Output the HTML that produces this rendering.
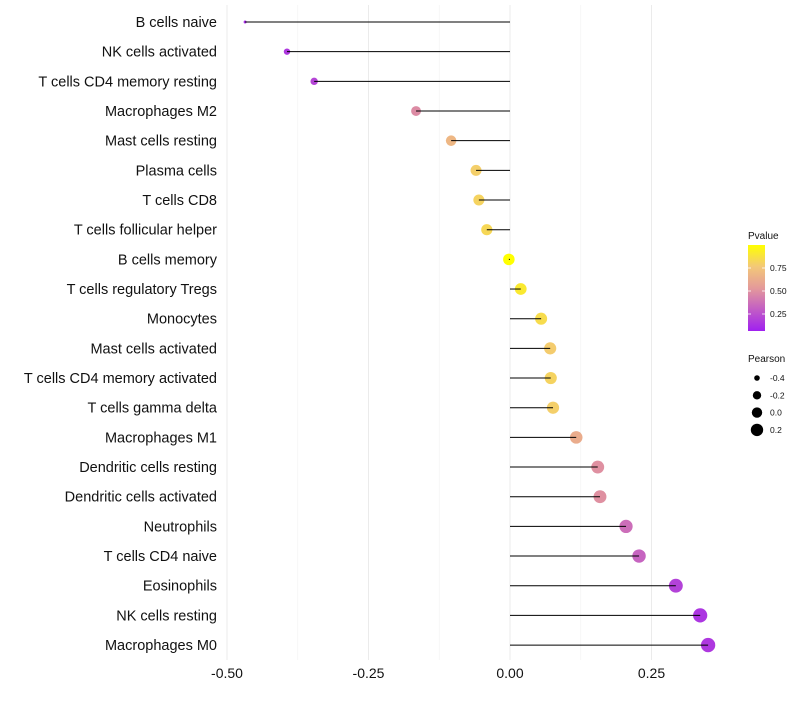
<!DOCTYPE html>
<html><head><meta charset="utf-8"><style>
body{margin:0;background:#fff;font-family:"Liberation Sans",sans-serif;}
</style></head><body>
<svg id="c" width="800" height="700" xmlns="http://www.w3.org/2000/svg">
<defs><linearGradient id="pg" x1="0" y1="1" x2="0" y2="0">
<stop offset="0" stop-color="#a020f0"/><stop offset="0.5" stop-color="#e49a9a"/><stop offset="0.75" stop-color="#f3c878"/><stop offset="1" stop-color="#ffff00"/></linearGradient></defs>
</svg>
<script>
const categories=["B cells naive","NK cells activated","T cells CD4 memory resting","Macrophages M2","Mast cells resting","Plasma cells","T cells CD8","T cells follicular helper","B cells memory","T cells regulatory  Tregs ","Monocytes","Mast cells activated","T cells CD4 memory activated","T cells gamma delta","Macrophages M1","Dendritic cells resting","Dendritic cells activated","Neutrophils","T cells CD4 naive","Eosinophils","NK cells resting","Macrophages M0"];
const pearson=[-0.468,-0.394,-0.346,-0.166,-0.104,-0.060,-0.055,-0.041,-0.002,0.019,0.055,0.071,0.072,0.076,0.117,0.155,0.159,0.205,0.228,0.293,0.336,0.350];
const pvalue=[0.05,0.1,0.15,0.44,0.66,0.78,0.8,0.82,1.0,0.9,0.84,0.77,0.8,0.78,0.6,0.46,0.46,0.32,0.28,0.14,0.09,0.1];
const xTicks=[-0.5,-0.25,0,0.25];
const xTickLabels=["-0.50","-0.25","0.00","0.25"];
const xMinor=[-0.375,-0.125,0.125];
const pTicks=[0.25,0.5,0.75];
const sizeBreaks=[-0.4,-0.2,0.0,0.2];
const NS="http://www.w3.org/2000/svg";
const svg=document.getElementById('c');
const X=v=>510+v*566;
const Y=i=>22+i*29.67;
const vmin=Math.min(...pearson);
const R=v=>1.5+6.25*Math.sqrt(Math.max(0,v-vmin));
function col(p){
  const st=[[0,[160,32,240]],[0.5,[228,154,154]],[0.75,[243,200,120]],[1,[255,255,0]]];
  p=Math.max(0,Math.min(1,p));
  for(let k=1;k<st.length;k++){if(p<=st[k][0]){const a=st[k-1],b=st[k],t=(p-a[0])/(b[0]-a[0]);
  return 'rgb('+a[1].map((c,j)=>Math.round(c+(b[1][j]-c)*t)).join(',')+')';}}
  return 'rgb(255,255,0)';
}
function el(t,a,txt){const e=document.createElementNS(NS,t);for(const k in a)e.setAttribute(k,a[k]);if(txt!==undefined)e.textContent=txt;svg.appendChild(e);return e;}
xMinor.forEach(v=>{const e=el('line',{x1:X(v),x2:X(v),y1:5,y2:660,stroke:'#f2f2f2','stroke-width':0.6});

});
xTicks.forEach((v,i)=>{const e=el('line',{x1:X(v),x2:X(v),y1:5,y2:660,stroke:'#ebebeb','stroke-width':1});


const t=el('text',{x:X(v),y:678,'text-anchor':'middle','font-size':14,fill:'#111'},xTickLabels[i]);

});
categories.forEach((c,i)=>{
  const t=el('text',{x:217,y:Y(i)+5,'text-anchor':'end','font-size':14.5,fill:'#111'},c);
  
  
  const d=el('circle',{cx:X(pearson[i]),cy:Y(i),r:R(pearson[i]),fill:col(pvalue[i])});
  
  
  const l=el('line',{x1:X(0),x2:X(pearson[i]),y1:Y(i),y2:Y(i),stroke:'#000','stroke-width':1});
  
  
});
let t=el('text',{x:748,y:239,'font-size':10,fill:'#111'},'Pvalue');


const pb=el('rect',{x:748,y:245,width:17,height:86,fill:'url(#pg)'});


pTicks.forEach(p=>{const y=337-p*92;
const tk=el('line',{x1:748,x2:751,y1:y,y2:y,stroke:'#fff','stroke-width':0.8});


const tk2=el('line',{x1:762,x2:765,y1:y,y2:y,stroke:'#fff','stroke-width':0.8});


const lb=el('text',{x:770,y:y+3,'font-size':8.5,fill:'#111'},p.toFixed(2));

});
t=el('text',{x:748,y:362,'font-size':10,fill:'#111'},'Pearson');


const legR=[2.8,4.2,5.2,6.2];
sizeBreaks.forEach((v,i)=>{const y=378+i*17.3;
const c=el('circle',{cx:757,cy:y,r:legR[i],fill:'#000'});


const lb=el('text',{x:770,y:y+3,'font-size':8.5,fill:'#111'},v.toFixed(1));

});
</script>
</body></html>
